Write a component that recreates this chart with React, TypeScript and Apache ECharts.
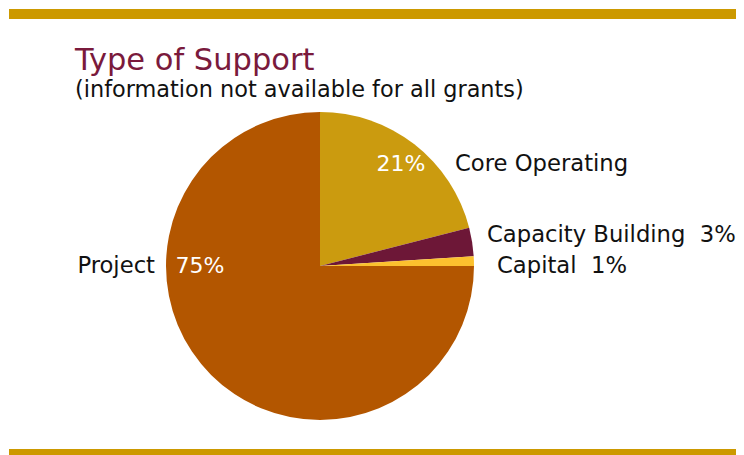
import React, { useEffect, useRef } from "react";
import * as echarts from "echarts";

const categories = ["Core Operating", "Capacity Building", "Capital", "Project"];
const values = [21, 3, 1, 75];
const colors = ["#CB9B0F", "#6D1737", "#FCC12E", "#B35600"];
const titleText = "Type of Support";
const subtitleText = "(information not available for all grants)";

// label placement (pixels) for inside percent and outside name labels
const insideLabelPos: Record<number, [number, number]> = { 0: [401, 163], 3: [200, 265] };
const outsideLabelPos: Record<number, [number, number, string]> = {
  0: [455, 163, "left"],
  1: [487, 234, "left"],
  2: [497, 265, "left"],
  3: [155, 265, "right"],
};

const FONT = "'DejaVu Sans', sans-serif";

export default function App() {
  const ref = useRef<HTMLDivElement>(null);
  useEffect(() => {
    document.body.style.margin = "0";
    const chart = echarts.init(ref.current!, undefined, { renderer: "svg" });
    const data = categories.map((c, i) => ({ name: c, value: values[i], itemStyle: { color: colors[i] } }));
    chart.setOption({
      animation: false,
      backgroundColor: "#ffffff",
      title: {
        text: titleText,
        subtext: subtitleText,
        left: 75,
        top: 44,
        padding: 0,
        itemGap: 3,
        textStyle: { fontFamily: FONT, fontSize: 30.5, fontWeight: "normal", color: "#7A1A3C" },
        subtextStyle: { fontFamily: FONT, fontSize: 22.4, color: "#111111" },
      },
      graphic: [
        { type: "rect", shape: { x: 9, y: 9, width: 727, height: 10 }, style: { fill: "#CC9900" } },
        { type: "rect", shape: { x: 9, y: 449, width: 727, height: 6 }, style: { fill: "#CC9900" } },
      ],
      series: [
        {
          type: "pie",
          center: [320, 266],
          radius: 154,
          startAngle: 90,
          clockwise: true,
          data,
          itemStyle: { borderWidth: 0 },
          emphasis: { disabled: true },
          label: {
            show: true,
            position: "inside",
            color: "#ffffff",
            fontFamily: FONT,
            fontSize: 22,
            formatter: (p: any) => (insideLabelPos[p.dataIndex] ? `${Math.round(p.percent)}%` : ""),
          },
          labelLine: { show: false },
          labelLayout: (p: any) => {
            const pos = insideLabelPos[p.dataIndex];
            if (!pos) return {};
            return { x: pos[0], y: pos[1], align: "center", verticalAlign: "middle" };
          },
        },
        {
          type: "pie",
          center: [320, 266],
          radius: 154,
          startAngle: 90,
          clockwise: true,
          silent: true,
          data: categories.map((c, i) => ({ name: c, value: values[i] })),
          itemStyle: { color: "rgba(0,0,0,0)", borderWidth: 0 },
          emphasis: { disabled: true },
          label: {
            show: true,
            position: "outside",
            overflow: "none",
            color: "#111111",
            fontFamily: FONT,
            fontSize: 22.7,
            formatter: (p: any) =>
              p.dataIndex === 1 || p.dataIndex === 2 ? `${p.name}  ${Math.round(p.percent)}%` : p.name,
          },
          labelLine: { show: false },
          labelLayout: (p: any) => {
            const pos = outsideLabelPos[p.dataIndex];
            return { x: pos[0], y: pos[1], align: pos[2], verticalAlign: "middle" };
          },
        },
      ],
    });
    return () => chart.dispose();
  }, []);
  return <div ref={ref} style={{ width: 744, height: 455 }} />;
}
